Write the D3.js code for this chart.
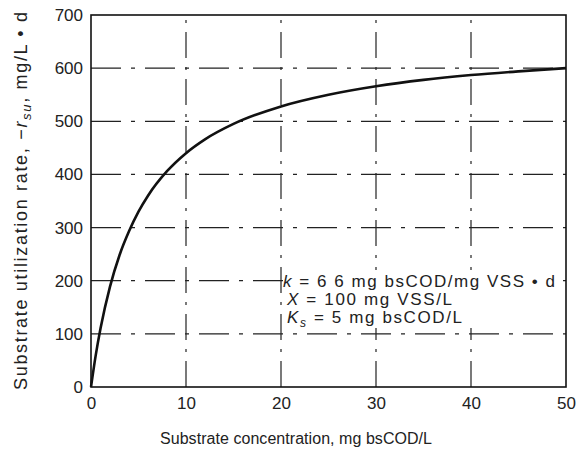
<!DOCTYPE html>
<html>
<head>
<meta charset="utf-8">
<script src="https://cdn.jsdelivr.net/npm/d3@7"></script>
<style>
  body { margin: 0; background: #fff; }
  svg text { font-family: "Liberation Sans", Arial, sans-serif; fill: #222; }
</style>
</head>
<body>
<div class="chart"></div>
<script>
// values
const conc = [0, 0.5, 1, 2, 3, 4, 5, 6, 8, 10, 12, 15, 20, 25, 30, 35, 40, 45, 50];
const rate = [0, 60, 110, 189, 248, 293, 330, 360, 406, 440, 466, 495, 528, 550, 566, 578, 587, 594, 600];
const xTicks = [0, 10, 20, 30, 40, 50];
const yTicks = [0, 100, 200, 300, 400, 500, 600, 700];

const width = 578, height = 450;
const margin = {left: 91, right: 12, top: 15, bottom: 63};

const svg = d3.select('.chart').append('svg').attr('width', width).attr('height', height);

const x = d3.scaleLinear().domain([0, 50]).range([margin.left, width - margin.right]);
const y = d3.scaleLinear().domain([0, 700]).range([height - margin.bottom, margin.top]);

// grid - broken lines like the scan
svg.append('g').selectAll('line')
  .data(xTicks.slice(1, -1))
  .join('line')
  .attr('x1', d => x(d)).attr('x2', d => x(d))
  .attr('y1', y(0)).attr('y2', y(700))
  .attr('stroke', '#222').attr('stroke-width', 1.2)
  .attr('stroke-dasharray', '26,9,3,9');

svg.append('g').selectAll('line')
  .data(yTicks.slice(1, -1))
  .join('line')
  .attr('x1', x(0)).attr('x2', x(50))
  .attr('y1', d => y(d)).attr('y2', d => y(d))
  .attr('stroke', '#222').attr('stroke-width', 1.2)
  .attr('stroke-dasharray', '30,10,4,10');

// annotation (white background cuts the grid)
const note = svg.append('g');
note.append('rect')
  .attr('x', x(20) + 2).attr('y', 270).attr('width', x(49) - x(20) - 2).attr('height', 58)
  .attr('fill', '#fff');

const lines = [
  {parts: [['k', 'i'], [' = 6 6 mg bsCOD/mg VSS • d', '']], len: 272, dx: 2},
  {parts: [['X', 'i'], [' = 100 mg VSS/L', '']], len: 165, dx: 6},
  {parts: [['K', 'i'], ['s', 'sub'], [' = 5 mg bsCOD/L', '']], len: 175, dx: 6}
];
lines.forEach((l, i) => {
  const t = note.append('text')
    .attr('x', x(20) + l.dx).attr('y', 287 + i * 18)
    .attr('font-size', 17)
    .attr('textLength', l.len).attr('lengthAdjust', 'spacing');
  l.parts.forEach(p => {
    const s = t.append('tspan').text(p[0]);
    if (p[1] === 'i') s.attr('font-style', 'italic');
    if (p[1] === 'sub') s.attr('font-style', 'italic').attr('font-size', 12).attr('dy', 4);
    if (i === 2 && p[1] === '') s.attr('dy', -4);
  });
});

// frame
svg.append('rect')
  .attr('x', x(0)).attr('y', y(700))
  .attr('width', x(50) - x(0)).attr('height', y(0) - y(700))
  .attr('fill', 'none').attr('stroke', '#111').attr('stroke-width', 1.6);

// axes
const xAxis = svg.append('g')
  .attr('transform', `translate(0,${y(0)})`)
  .call(d3.axisBottom(x).tickValues(xTicks).tickSize(0).tickPadding(10));
const yAxis = svg.append('g')
  .attr('transform', `translate(${x(0)},0)`)
  .call(d3.axisLeft(y).tickValues(yTicks).tickSize(0).tickPadding(8));
[xAxis, yAxis].forEach(a => {
  a.select('.domain').remove();
  a.selectAll('text').attr('font-size', 17).attr('fill', '#222')
    .attr('font-family', '"Liberation Sans", Arial, sans-serif');
});

// the curve
const line = d3.line().x((d, i) => x(conc[i])).y(d => y(d)).curve(d3.curveMonotoneX);
svg.append('path')
  .attr('d', line(rate))
  .attr('fill', 'none').attr('stroke', '#111').attr('stroke-width', 2.6);

// axis titles
svg.append('text')
  .attr('x', 296).attr('y', 444)
  .attr('text-anchor', 'middle').attr('font-size', 16)
  .attr('textLength', 272).attr('lengthAdjust', 'spacing')
  .text('Substrate concentration, mg bsCOD/L');

const yt = svg.append('text')
  .attr('transform', `translate(27,${y(350)}) rotate(-90)`)
  .attr('text-anchor', 'middle').attr('font-size', 18)
  .attr('textLength', 378).attr('lengthAdjust', 'spacing');
yt.append('tspan').text('Substrate utilization rate, \u2212');
yt.append('tspan').text('r').attr('font-style', 'italic');
yt.append('tspan').text('su').attr('font-style', 'italic').attr('font-size', 13).attr('dy', 4);
yt.append('tspan').text(', mg/L • d').attr('dy', -4);
</script>
</body>
</html>
